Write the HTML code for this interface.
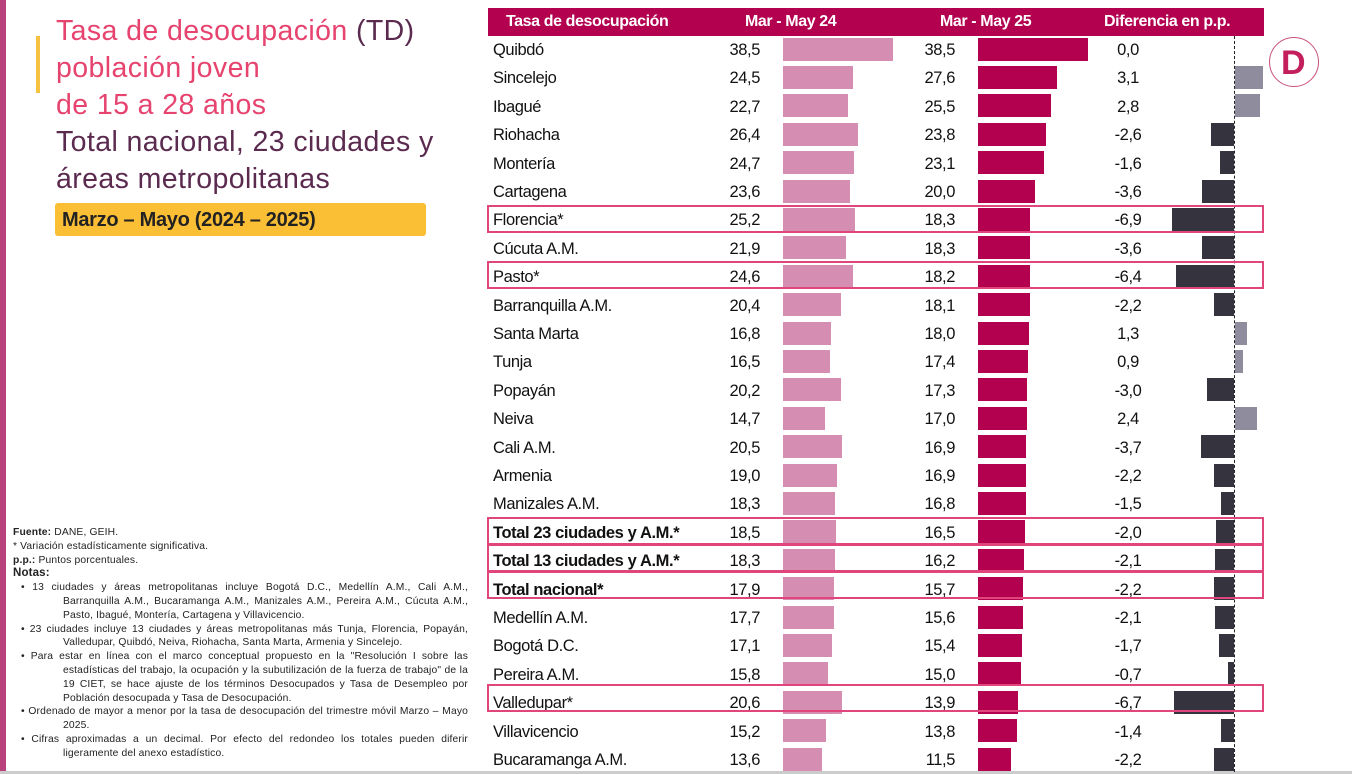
<!DOCTYPE html>
<html><head><meta charset="utf-8"><style>
body{margin:0;width:1352px;height:774px;background:#fff;position:relative;overflow:hidden;font-family:"Liberation Sans",sans-serif}
.a{position:absolute}
.r{position:absolute;left:0;width:1352px;height:28.4px;font-size:16.5px;color:#111;letter-spacing:-0.4px}
.r>*{position:absolute}
.n{left:493px;top:6px}
.v1{right:592px;top:6px}
.v2{right:397px;top:6px}
.v3{left:1100px;width:56px;text-align:center;top:6px}
.b1{left:783px;top:2.5px;height:23px;background:#d58db1}
.b2{left:978px;top:2.5px;height:23px;background:#b3004f}
.p{left:1235px;top:2.5px;height:23px;background:#8e8c9d}
.m{right:118px;top:2.5px;height:23px;background:#34333e}
.bo{font-weight:bold}
.hl{position:absolute;left:487px;width:773px;border:2px solid #e0467c}
.h{position:absolute;top:8px;height:28px;color:#fff;font-weight:bold;font-size:16px;line-height:28px;letter-spacing:-0.4px}
.notes{position:absolute;left:13px;top:526px;width:455px;font-size:10.3px;color:#222;line-height:13.8px;letter-spacing:0.15px}
.notes div.i{padding-left:50px;text-indent:-42px;text-align:justify}
</style></head><body>
<div class="a" style="left:0;top:0;width:6px;height:774px;background:#b9427c"></div>
<div class="a" style="left:0;top:771px;width:1352px;height:3px;background:#ccc"></div>
<div class="a" style="left:36px;top:36px;width:4px;height:57px;background:#f7c23f"></div>
<div class="a" style="left:56px;top:13px;font-size:28.5px;line-height:37px;color:#e6436f;letter-spacing:0.4px">Tasa de desocupación <span style="color:#5b2a4f">(TD)</span><br>población joven<br>de 15 a 28 años<br><span style="color:#5b2a4f">Total nacional, 23 ciudades y<br>áreas metropolitanas</span></div>
<div class="a" style="left:55px;top:203px;width:371px;height:33px;background:#fbbf36;border-radius:3px"></div>
<div class="a" style="left:62px;top:209px;font-size:20px;font-weight:bold;color:#222;letter-spacing:-0.3px">Marzo – Mayo (2024 – 2025)</div>

<div class="notes">
<div><b>Fuente:</b> DANE, GEIH.</div>
<div>* Variación estadísticamente significativa.</div>
<div><b>p.p.:</b> Puntos porcentuales.</div>
<div style="font-size:11.5px"><b>Notas:</b></div>
<div class="i">• 13 ciudades y áreas metropolitanas incluye Bogotá D.C., Medellín A.M., Cali A.M., Barranquilla A.M., Bucaramanga A.M., Manizales A.M., Pereira A.M., Cúcuta A.M., Pasto, Ibagué, Montería, Cartagena y Villavicencio.</div>
<div class="i">• 23 ciudades incluye 13 ciudades y áreas metropolitanas más Tunja, Florencia, Popayán, Valledupar, Quibdó, Neiva, Riohacha, Santa Marta, Armenia y Sincelejo.</div>
<div class="i">• Para estar en línea con el marco conceptual propuesto en la "Resolución I sobre las estadísticas del trabajo, la ocupación y la subutilización de la fuerza de trabajo" de la 19 CIET, se hace ajuste de los términos Desocupados y Tasa de Desempleo por Población desocupada y Tasa de Desocupación.</div>
<div class="i">• Ordenado de mayor a menor por la tasa de desocupación del trimestre móvil Marzo – Mayo 2025.</div>
<div class="i">• Cifras aproximadas a un decimal. Por efecto del redondeo los totales pueden diferir ligeramente del anexo estadístico.</div>
</div>

<div class="a" style="left:488px;top:8px;width:776px;height:28px;background:#b3004f"></div>
<div class="h" style="left:506px">Tasa de desocupación</div>
<div class="h" style="left:745px">Mar - May 24</div>
<div class="h" style="left:940px">Mar - May 25</div>
<div class="h" style="left:1104px">Diferencia en p.p.</div>
<div class="a" style="left:1234px;top:36px;height:736px;border-left:1.5px dashed #222"></div>

<div class="a" style="left:1269px;top:37px;width:48px;height:48px;border:1.5px solid #c9507f;border-radius:50%"></div>
<div class="a" style="left:1281px;top:48px;font-size:34px;font-weight:bold;line-height:30px;color:#c21f5c">D</div>

<div class="r" style="top:35px"><span class="n">Quibdó</span><span class="v1">38,5</span><span class="b1" style="width:110px"></span><span class="v2">38,5</span><span class="b2" style="width:110px"></span><span class="v3">0,0</span></div>
<div class="r" style="top:63.4px"><span class="n">Sincelejo</span><span class="v1">24,5</span><span class="b1" style="width:70px"></span><span class="v2">27,6</span><span class="b2" style="width:78.9px"></span><span class="v3">3,1</span><span class="p" style="width:27.9px"></span></div>
<div class="r" style="top:91.8px"><span class="n">Ibagué</span><span class="v1">22,7</span><span class="b1" style="width:64.9px"></span><span class="v2">25,5</span><span class="b2" style="width:72.9px"></span><span class="v3">2,8</span><span class="p" style="width:25.2px"></span></div>
<div class="r" style="top:120.2px"><span class="n">Riohacha</span><span class="v1">26,4</span><span class="b1" style="width:75.4px"></span><span class="v2">23,8</span><span class="b2" style="width:68px"></span><span class="v3">-2,6</span><span class="m" style="width:23.4px"></span></div>
<div class="r" style="top:148.6px"><span class="n">Montería</span><span class="v1">24,7</span><span class="b1" style="width:70.6px"></span><span class="v2">23,1</span><span class="b2" style="width:66px"></span><span class="v3">-1,6</span><span class="m" style="width:14.4px"></span></div>
<div class="r" style="top:177px"><span class="n">Cartagena</span><span class="v1">23,6</span><span class="b1" style="width:67.4px"></span><span class="v2">20,0</span><span class="b2" style="width:57.1px"></span><span class="v3">-3,6</span><span class="m" style="width:32.4px"></span></div>
<div class="r" style="top:205.4px"><span class="n">Florencia*</span><span class="v1">25,2</span><span class="b1" style="width:72px"></span><span class="v2">18,3</span><span class="b2" style="width:52.3px"></span><span class="v3">-6,9</span><span class="m" style="width:62.1px"></span></div>
<div class="r" style="top:233.8px"><span class="n">Cúcuta A.M.</span><span class="v1">21,9</span><span class="b1" style="width:62.6px"></span><span class="v2">18,3</span><span class="b2" style="width:52.3px"></span><span class="v3">-3,6</span><span class="m" style="width:32.4px"></span></div>
<div class="r" style="top:262.2px"><span class="n">Pasto*</span><span class="v1">24,6</span><span class="b1" style="width:70.3px"></span><span class="v2">18,2</span><span class="b2" style="width:52px"></span><span class="v3">-6,4</span><span class="m" style="width:57.6px"></span></div>
<div class="r" style="top:290.6px"><span class="n">Barranquilla A.M.</span><span class="v1">20,4</span><span class="b1" style="width:58.3px"></span><span class="v2">18,1</span><span class="b2" style="width:51.7px"></span><span class="v3">-2,2</span><span class="m" style="width:19.8px"></span></div>
<div class="r" style="top:319px"><span class="n">Santa Marta</span><span class="v1">16,8</span><span class="b1" style="width:48px"></span><span class="v2">18,0</span><span class="b2" style="width:51.4px"></span><span class="v3">1,3</span><span class="p" style="width:11.7px"></span></div>
<div class="r" style="top:347.4px"><span class="n">Tunja</span><span class="v1">16,5</span><span class="b1" style="width:47.1px"></span><span class="v2">17,4</span><span class="b2" style="width:49.7px"></span><span class="v3">0,9</span><span class="p" style="width:8.1px"></span></div>
<div class="r" style="top:375.8px"><span class="n">Popayán</span><span class="v1">20,2</span><span class="b1" style="width:57.7px"></span><span class="v2">17,3</span><span class="b2" style="width:49.4px"></span><span class="v3">-3,0</span><span class="m" style="width:27px"></span></div>
<div class="r" style="top:404.2px"><span class="n">Neiva</span><span class="v1">14,7</span><span class="b1" style="width:42px"></span><span class="v2">17,0</span><span class="b2" style="width:48.6px"></span><span class="v3">2,4</span><span class="p" style="width:21.6px"></span></div>
<div class="r" style="top:432.6px"><span class="n">Cali A.M.</span><span class="v1">20,5</span><span class="b1" style="width:58.6px"></span><span class="v2">16,9</span><span class="b2" style="width:48.3px"></span><span class="v3">-3,7</span><span class="m" style="width:33.3px"></span></div>
<div class="r" style="top:461px"><span class="n">Armenia</span><span class="v1">19,0</span><span class="b1" style="width:54.3px"></span><span class="v2">16,9</span><span class="b2" style="width:48.3px"></span><span class="v3">-2,2</span><span class="m" style="width:19.8px"></span></div>
<div class="r" style="top:489.4px"><span class="n">Manizales A.M.</span><span class="v1">18,3</span><span class="b1" style="width:52.3px"></span><span class="v2">16,8</span><span class="b2" style="width:48px"></span><span class="v3">-1,5</span><span class="m" style="width:13.5px"></span></div>
<div class="r" style="top:517.8px"><span class="n bo">Total 23 ciudades y A.M.*</span><span class="v1">18,5</span><span class="b1" style="width:52.9px"></span><span class="v2">16,5</span><span class="b2" style="width:47.1px"></span><span class="v3">-2,0</span><span class="m" style="width:18px"></span></div>
<div class="r" style="top:546.2px"><span class="n bo">Total 13 ciudades y A.M.*</span><span class="v1">18,3</span><span class="b1" style="width:52.3px"></span><span class="v2">16,2</span><span class="b2" style="width:46.3px"></span><span class="v3">-2,1</span><span class="m" style="width:18.9px"></span></div>
<div class="r" style="top:574.6px"><span class="n bo">Total nacional*</span><span class="v1">17,9</span><span class="b1" style="width:51.1px"></span><span class="v2">15,7</span><span class="b2" style="width:44.9px"></span><span class="v3">-2,2</span><span class="m" style="width:19.8px"></span></div>
<div class="r" style="top:603px"><span class="n">Medellín A.M.</span><span class="v1">17,7</span><span class="b1" style="width:50.6px"></span><span class="v2">15,6</span><span class="b2" style="width:44.6px"></span><span class="v3">-2,1</span><span class="m" style="width:18.9px"></span></div>
<div class="r" style="top:631.4px"><span class="n">Bogotá D.C.</span><span class="v1">17,1</span><span class="b1" style="width:48.9px"></span><span class="v2">15,4</span><span class="b2" style="width:44px"></span><span class="v3">-1,7</span><span class="m" style="width:15.3px"></span></div>
<div class="r" style="top:659.8px"><span class="n">Pereira A.M.</span><span class="v1">15,8</span><span class="b1" style="width:45.1px"></span><span class="v2">15,0</span><span class="b2" style="width:42.9px"></span><span class="v3">-0,7</span><span class="m" style="width:6.3px"></span></div>
<div class="r" style="top:688.2px"><span class="n">Valledupar*</span><span class="v1">20,6</span><span class="b1" style="width:58.9px"></span><span class="v2">13,9</span><span class="b2" style="width:39.7px"></span><span class="v3">-6,7</span><span class="m" style="width:60.3px"></span></div>
<div class="r" style="top:716.6px"><span class="n">Villavicencio</span><span class="v1">15,2</span><span class="b1" style="width:43.4px"></span><span class="v2">13,8</span><span class="b2" style="width:39.4px"></span><span class="v3">-1,4</span><span class="m" style="width:12.6px"></span></div>
<div class="r" style="top:745px"><span class="n">Bucaramanga A.M.</span><span class="v1">13,6</span><span class="b1" style="width:38.9px"></span><span class="v2">11,5</span><span class="b2" style="width:32.9px"></span><span class="v3">-2,2</span><span class="m" style="width:19.8px"></span></div>

<div class="hl" style="top:205px;height:24px"></div>
<div class="hl" style="top:261px;height:24px"></div>
<div class="hl" style="top:517px;height:24px"></div>
<div class="hl" style="top:544px;height:24px"></div>
<div class="hl" style="top:571px;height:24px"></div>
<div class="hl" style="top:684px;height:24px"></div>
</body></html>
